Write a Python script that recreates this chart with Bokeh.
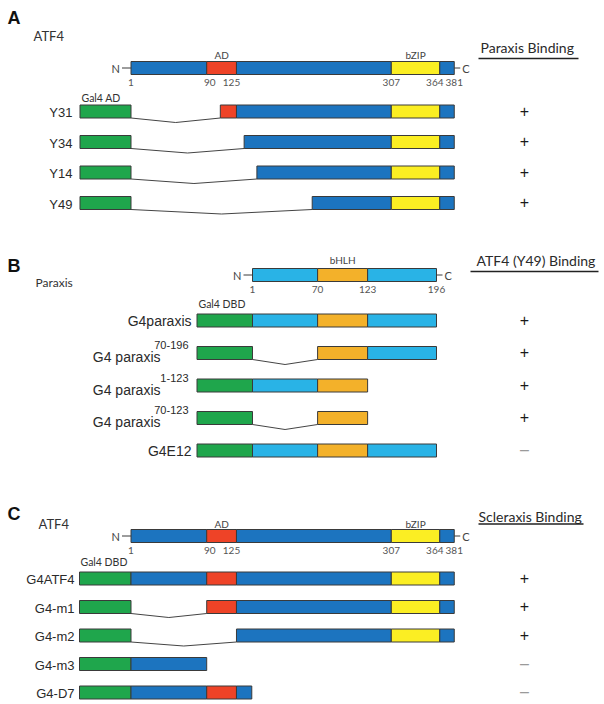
from bokeh.plotting import figure
from bokeh.models import Range1d
from bokeh.core.properties import value
from bokeh.embed import file_html
from bokeh.resources import INLINE

# ---------------- data ----------------
ATF4_LENGTH = 381
ATF4_DOMAIN_NAMES = ["AD", "bZIP"]
ATF4_DOMAIN_STARTS = [90, 307]
ATF4_DOMAIN_ENDS = [125, 364]
ATF4_TICKS = [1, 90, 125, 307, 364, 381]

PARAXIS_LENGTH = 196
PARAXIS_DOMAIN_NAMES = ["bHLH"]
PARAXIS_DOMAIN_STARTS = [70]
PARAXIS_DOMAIN_ENDS = [123]
PARAXIS_TICKS = [1, 70, 123, 196]

A_NAMES = ["Y31", "Y34", "Y14", "Y49"]
A_STARTS = [106, 134, 149, 214]
A_ENDS = [381, 381, 381, 381]
A_BINDING = ["+", "+", "+", "+"]

B_NAMES = ["G4paraxis", "G4 paraxis", "G4 paraxis", "G4 paraxis", "G4E12"]
B_SUPERSCRIPTS = ["", "70-196", "1-123", "70-123", ""]
B_STARTS = [1, 70, 1, 70, 1]
B_ENDS = [196, 196, 123, 123, 196]
B_BINDING = ["+", "+", "+", "+", "\u2013"]

C_NAMES = ["G4ATF4", "G4-m1", "G4-m2", "G4-m3", "G4-D7"]
C_STARTS = [1, 90, 125, 1, 1]
C_ENDS = [381, 381, 381, 90, 143]
C_BINDING = ["+", "+", "+", "\u2013", "\u2013"]

# ---------------- styles / layout ----------------
BLUE = "#1c74bf"
RED = "#ee4327"
YELLOW = "#fbee23"
GREEN = "#1fa64c"
LBLUE = "#29b3e6"
ORANGE = "#f3b12a"
OUTLINE = "#3a3a3a"
ATF4_COLORS = [RED, YELLOW]
PARAXIS_COLORS = [ORANGE]
# small horizontal nudges (px) for crowded residue-number labels
ATF4_TICK_NUDGE = {90: 3, 125: -5, 364: -5}
PARAXIS_TICK_NUDGE = {}

HELV = value("Liberation Sans")
MYR = value("Lato")

FIG_W, FIG_H = 604, 704
X0, Y0 = 0, 0
BAR_H = 13


def make_range(px0, px1, a0, a1):
    s = (px1 - px0) / (a1 - a0)
    return Range1d(a0 + (X0 - px0) / s, a0 + (X0 + FIG_W - px0) / s), s


atf4_range, ATF4_S = make_range(130.5, 453.75, 1, ATF4_LENGTH)
par_range, PAR_S = make_range(252.0, 436.0, 1, PARAXIS_LENGTH)

p = figure(width=FIG_W, height=FIG_H, x_range=atf4_range,
           y_range=Range1d(Y0 + FIG_H, Y0),
           x_axis_type=None, y_axis_type=None,
           output_backend="svg", toolbar_location=None, min_border=0)
p.extra_x_ranges = {"par": par_range, "page": Range1d(X0, X0 + FIG_W)}
p.outline_line_color = None
p.background_fill_color = "white"
p.border_fill_color = "white"


def segments(start, end, dstarts, dends, dcolors, base):
    bounds = sorted(set([start, end] + [b for b in dstarts + dends if start < b < end]))
    out = []
    for a, b in zip(bounds[:-1], bounds[1:]):
        c = base
        for ds, de, dc in zip(dstarts, dends, dcolors):
            if a >= ds and b <= de:
                c = dc
        out.append((a, b, c))
    return out


def bars(rname, segs, y):
    p.quad(left=[s[0] for s in segs], right=[s[1] for s in segs],
           top=[y - BAR_H / 2] * len(segs), bottom=[y + BAR_H / 2] * len(segs),
           fill_color=[s[2] for s in segs], line_color=OUTLINE, line_width=1,
           x_range_name=rname)


def txt(rname, x, y, t, align="left", size="10px", font=MYR, color="#333333", style="normal"):
    p.text(x=[x], y=[y], text=[t], text_align=align, text_baseline="middle",
           text_font=font, text_font_size=size, text_color=color,
           text_font_style=style, x_range_name=rname)


def header(rname, scale, length, dstarts, dends, dnames, dcolors, base, ticks, nudge, y,
           above_dy, below_dy):
    bars(rname, segments(1, length, dstarts, dends, dcolors, base), y)
    # N / C terminal ticks
    p.segment(x0=[1 - 9 / scale, length], y0=[y, y], x1=[1, length + 6 / scale], y1=[y, y],
              line_color=OUTLINE, line_width=1, x_range_name=rname)
    txt(rname, 1 - 11 / scale, y, "N", "right", "11px", color="#444444")
    txt(rname, length + 8 / scale, y, "C", "left", "11px", color="#444444")
    for ds, de, dn in zip(dstarts, dends, dnames):
        txt(rname, (ds + de) / 2, y + above_dy, dn, "center", "10px", color="#444444")
    for t in ticks:
        txt(rname, t + nudge.get(t, 0) / scale, y + below_dy, str(t), "center", "10px",
            color="#555555")


def construct_rows(rname, scale, gal4_px, rows_y, starts, ends, dstarts, dends, dcolors, base, dip):
    gal4_w = gal4_px / scale
    for y, s, e in zip(rows_y, starts, ends):
        if s > 1:
            p.line(x=[1, (1 + s) / 2, s], y=[y + BAR_H / 2, y + BAR_H / 2 + dip, y + BAR_H / 2],
                   line_color="#444444", line_width=1, x_range_name=rname)
        bars(rname, [(1 - gal4_w, 1, GREEN)] + segments(s, e, dstarts, dends, dcolors, base), y)


def binding(title, tx, ty, ux0, ux1, uy, rows_y, signs):
    txt("page", tx, ty, title, "left", "14px", color="#2a2a2a")
    p.segment(x0=[ux0], y0=[uy], x1=[ux1], y1=[uy], line_color="#222222", line_width=1.5,
              x_range_name="page")
    for y, sgn in zip(rows_y, signs):
        col = "#1a1a1a" if sgn == "+" else "#9a9a9a"
        txt("page", 524, y - 1, sgn, "center", "16px", HELV, col)


# ---------------- Panel A ----------------
A_HEADER_Y = 67.5
A_ROWS = [111 + 30.5 * i for i in range(len(A_NAMES))]
txt("page", 7, 17, "A", "left", "18px", HELV, "#111111", "bold")
txt("page", 33, 35, "ATF4", "left", "13px", color="#333333")
header("default", ATF4_S, ATF4_LENGTH, ATF4_DOMAIN_STARTS, ATF4_DOMAIN_ENDS, ATF4_DOMAIN_NAMES,
       ATF4_COLORS, BLUE, ATF4_TICKS, ATF4_TICK_NUDGE, A_HEADER_Y, -13.5, 14)
construct_rows("default", ATF4_S, 51, A_ROWS, A_STARTS, A_ENDS, ATF4_DOMAIN_STARTS,
               ATF4_DOMAIN_ENDS, ATF4_COLORS, BLUE, 4.5)
txt("page", 81, A_ROWS[0] - 14, "Gal4 AD", "left", "10.5px", color="#333333")
for y, n in zip(A_ROWS, A_NAMES):
    txt("page", 72, y + 1, n, "right", "13px", HELV, "#2a2a2a")
binding("Paraxis Binding", 480, 47, 478, 578, 58, A_ROWS, A_BINDING)

# ---------------- Panel B ----------------
B_HEADER_Y = 274.5
B_ROWS = [320 + 32.5 * i for i in range(len(B_NAMES))]
txt("page", 7, 265, "B", "left", "18px", HELV, "#111111", "bold")
txt("page", 35, 282, "Paraxis", "left", "12px", color="#333333")
header("par", PAR_S, PARAXIS_LENGTH, PARAXIS_DOMAIN_STARTS, PARAXIS_DOMAIN_ENDS,
       PARAXIS_DOMAIN_NAMES, PARAXIS_COLORS, LBLUE, PARAXIS_TICKS, PARAXIS_TICK_NUDGE,
       B_HEADER_Y, -15.5, 14.5)
construct_rows("par", PAR_S, 55.5, B_ROWS, B_STARTS, B_ENDS, PARAXIS_DOMAIN_STARTS,
               PARAXIS_DOMAIN_ENDS, PARAXIS_COLORS, LBLUE, 5)
txt("page", 198, B_ROWS[0] - 17, "Gal4 DBD", "left", "10.5px", color="#333333")
for y, n, sup in zip(B_ROWS, B_NAMES, B_SUPERSCRIPTS):
    if sup:
        txt("page", 160, y + 4, n, "right", "14px", HELV, "#2a2a2a")
        txt("page", 188, y - 8, sup, "right", "11px", HELV, "#2a2a2a")
    else:
        txt("page", 191, y, n, "right", "14px", HELV, "#2a2a2a")
binding("ATF4 (Y49) Binding", 476, 260, 470, 598, 271, B_ROWS, B_BINDING)

# ---------------- Panel C ----------------
C_HEADER_Y = 535.5
C_ROWS = [578 + 28.5 * i for i in range(len(C_NAMES))]
txt("page", 7, 513, "C", "left", "18px", HELV, "#111111", "bold")
txt("page", 38, 523, "ATF4", "left", "13px", color="#333333")
header("default", ATF4_S, ATF4_LENGTH, ATF4_DOMAIN_STARTS, ATF4_DOMAIN_ENDS, ATF4_DOMAIN_NAMES,
       ATF4_COLORS, BLUE, ATF4_TICKS, ATF4_TICK_NUDGE, C_HEADER_Y, -12.5, 14)
construct_rows("default", ATF4_S, 51.5, C_ROWS, C_STARTS, C_ENDS, ATF4_DOMAIN_STARTS,
               ATF4_DOMAIN_ENDS, ATF4_COLORS, BLUE, 4)
txt("page", 80, C_ROWS[0] - 17, "Gal4 DBD", "left", "10.5px", color="#333333")
for y, n in zip(C_ROWS, C_NAMES):
    txt("page", 74, y + 1, n, "right", "13px", HELV, "#2a2a2a")
binding("Scleraxis Binding", 478, 516, 478, 583, 523.5, C_ROWS, C_BINDING)

open("out.html", "w").write(file_html(p, INLINE))
